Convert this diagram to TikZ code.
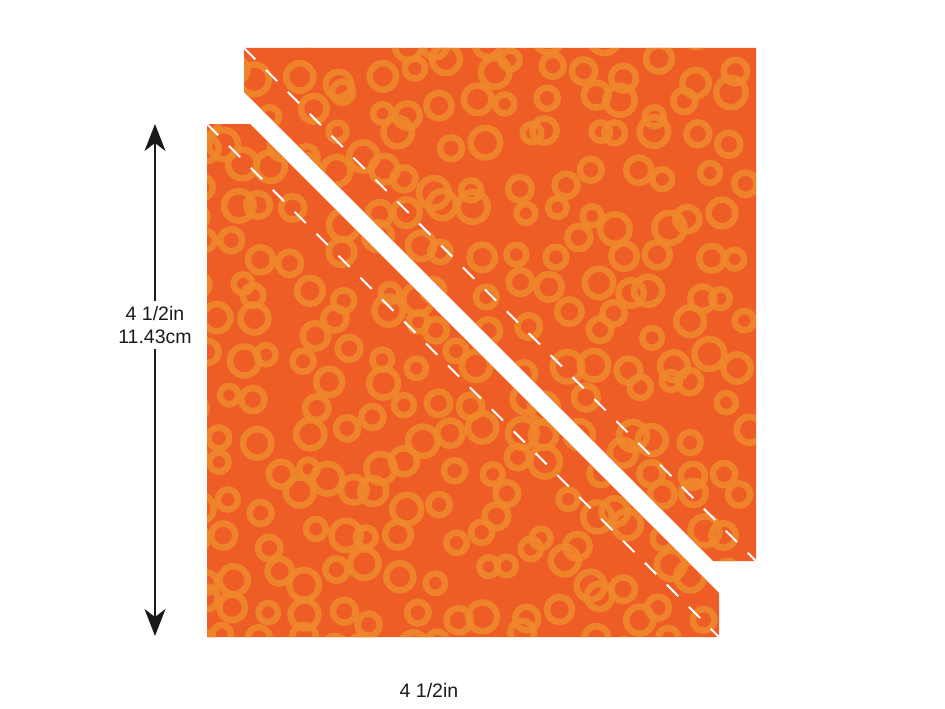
\documentclass[tikz,border=0pt]{standalone}
\usepackage{fontspec}
\setmainfont{Liberation Sans}
\usepackage{xcolor}
\usetikzlibrary{arrows.meta}
\definecolor{fbase}{HTML}{EE5D25}
\definecolor{fring}{HTML}{F0882C}
\definecolor{vblack}{HTML}{1a1a1a}

\begin{document}
\begin{tikzpicture}[x=1pt, y=-1pt,
		seam/.style={color=white, line width=2pt, dash pattern=on 16pt off 15pt},
		ring/.style={color=fring, line width=6.5pt, opacity=0.9},
		dimline/.style={color=vblack, line width=1.8pt, -{Stealth[length=27pt, width=21pt, inset=8pt]}},
		lbl/.style={font=\fontsize{19.5}{23}\selectfont, text=vblack, align=center, inner sep=5pt}]
		\useasboundingbox (0,0) rectangle (945,709);
		\coordinate (A) at (244,48);
		\coordinate (B) at (756,48);
		\coordinate (C) at (756,561);
		\coordinate (D) at (713,561);
		\coordinate (E) at (244,92);
		\coordinate (F) at (207,124);
		\coordinate (G) at (250,124);
		\coordinate (H) at (719,593);
		\coordinate (I) at (719,637);
		\coordinate (J) at (207,637);
		\begin{scope}
			\clip (A) -- (B) -- (C) -- (D) -- (E) -- cycle (F) -- (G) -- (H) -- (I) -- (J) -- cycle;
			\fill[color=fbase] (200,40) rectangle (760,640);
			\pgfmathsetseed{7}
			\foreach \gx in {195,231,...,770} {
				\foreach \gy in {35,71,...,650} {
					\pgfmathsetmacro{\cx}{\gx+rand*15}
					\pgfmathsetmacro{\cy}{\gy+rand*15}
					\pgfmathsetmacro{\r}{9+rnd*6}
					\draw[ring] (\cx,\cy) circle (\r pt);
				}
			}
		\end{scope}
		\draw[seam] (A) -- (C);
		\draw[seam] (F) -- (I);
		\node[lbl] (hlbl) at (155,325) {4 1/2in\\11.43cm};
		\coordinate (T) at (155,124);
		\coordinate (U) at (155,636);
		\draw[dimline] (hlbl) -- (T);
		\draw[dimline] (hlbl) -- (U);
		\node[lbl] (wlbl) at (429,691) {4 1/2in};
	\end{tikzpicture}
\end{document}
